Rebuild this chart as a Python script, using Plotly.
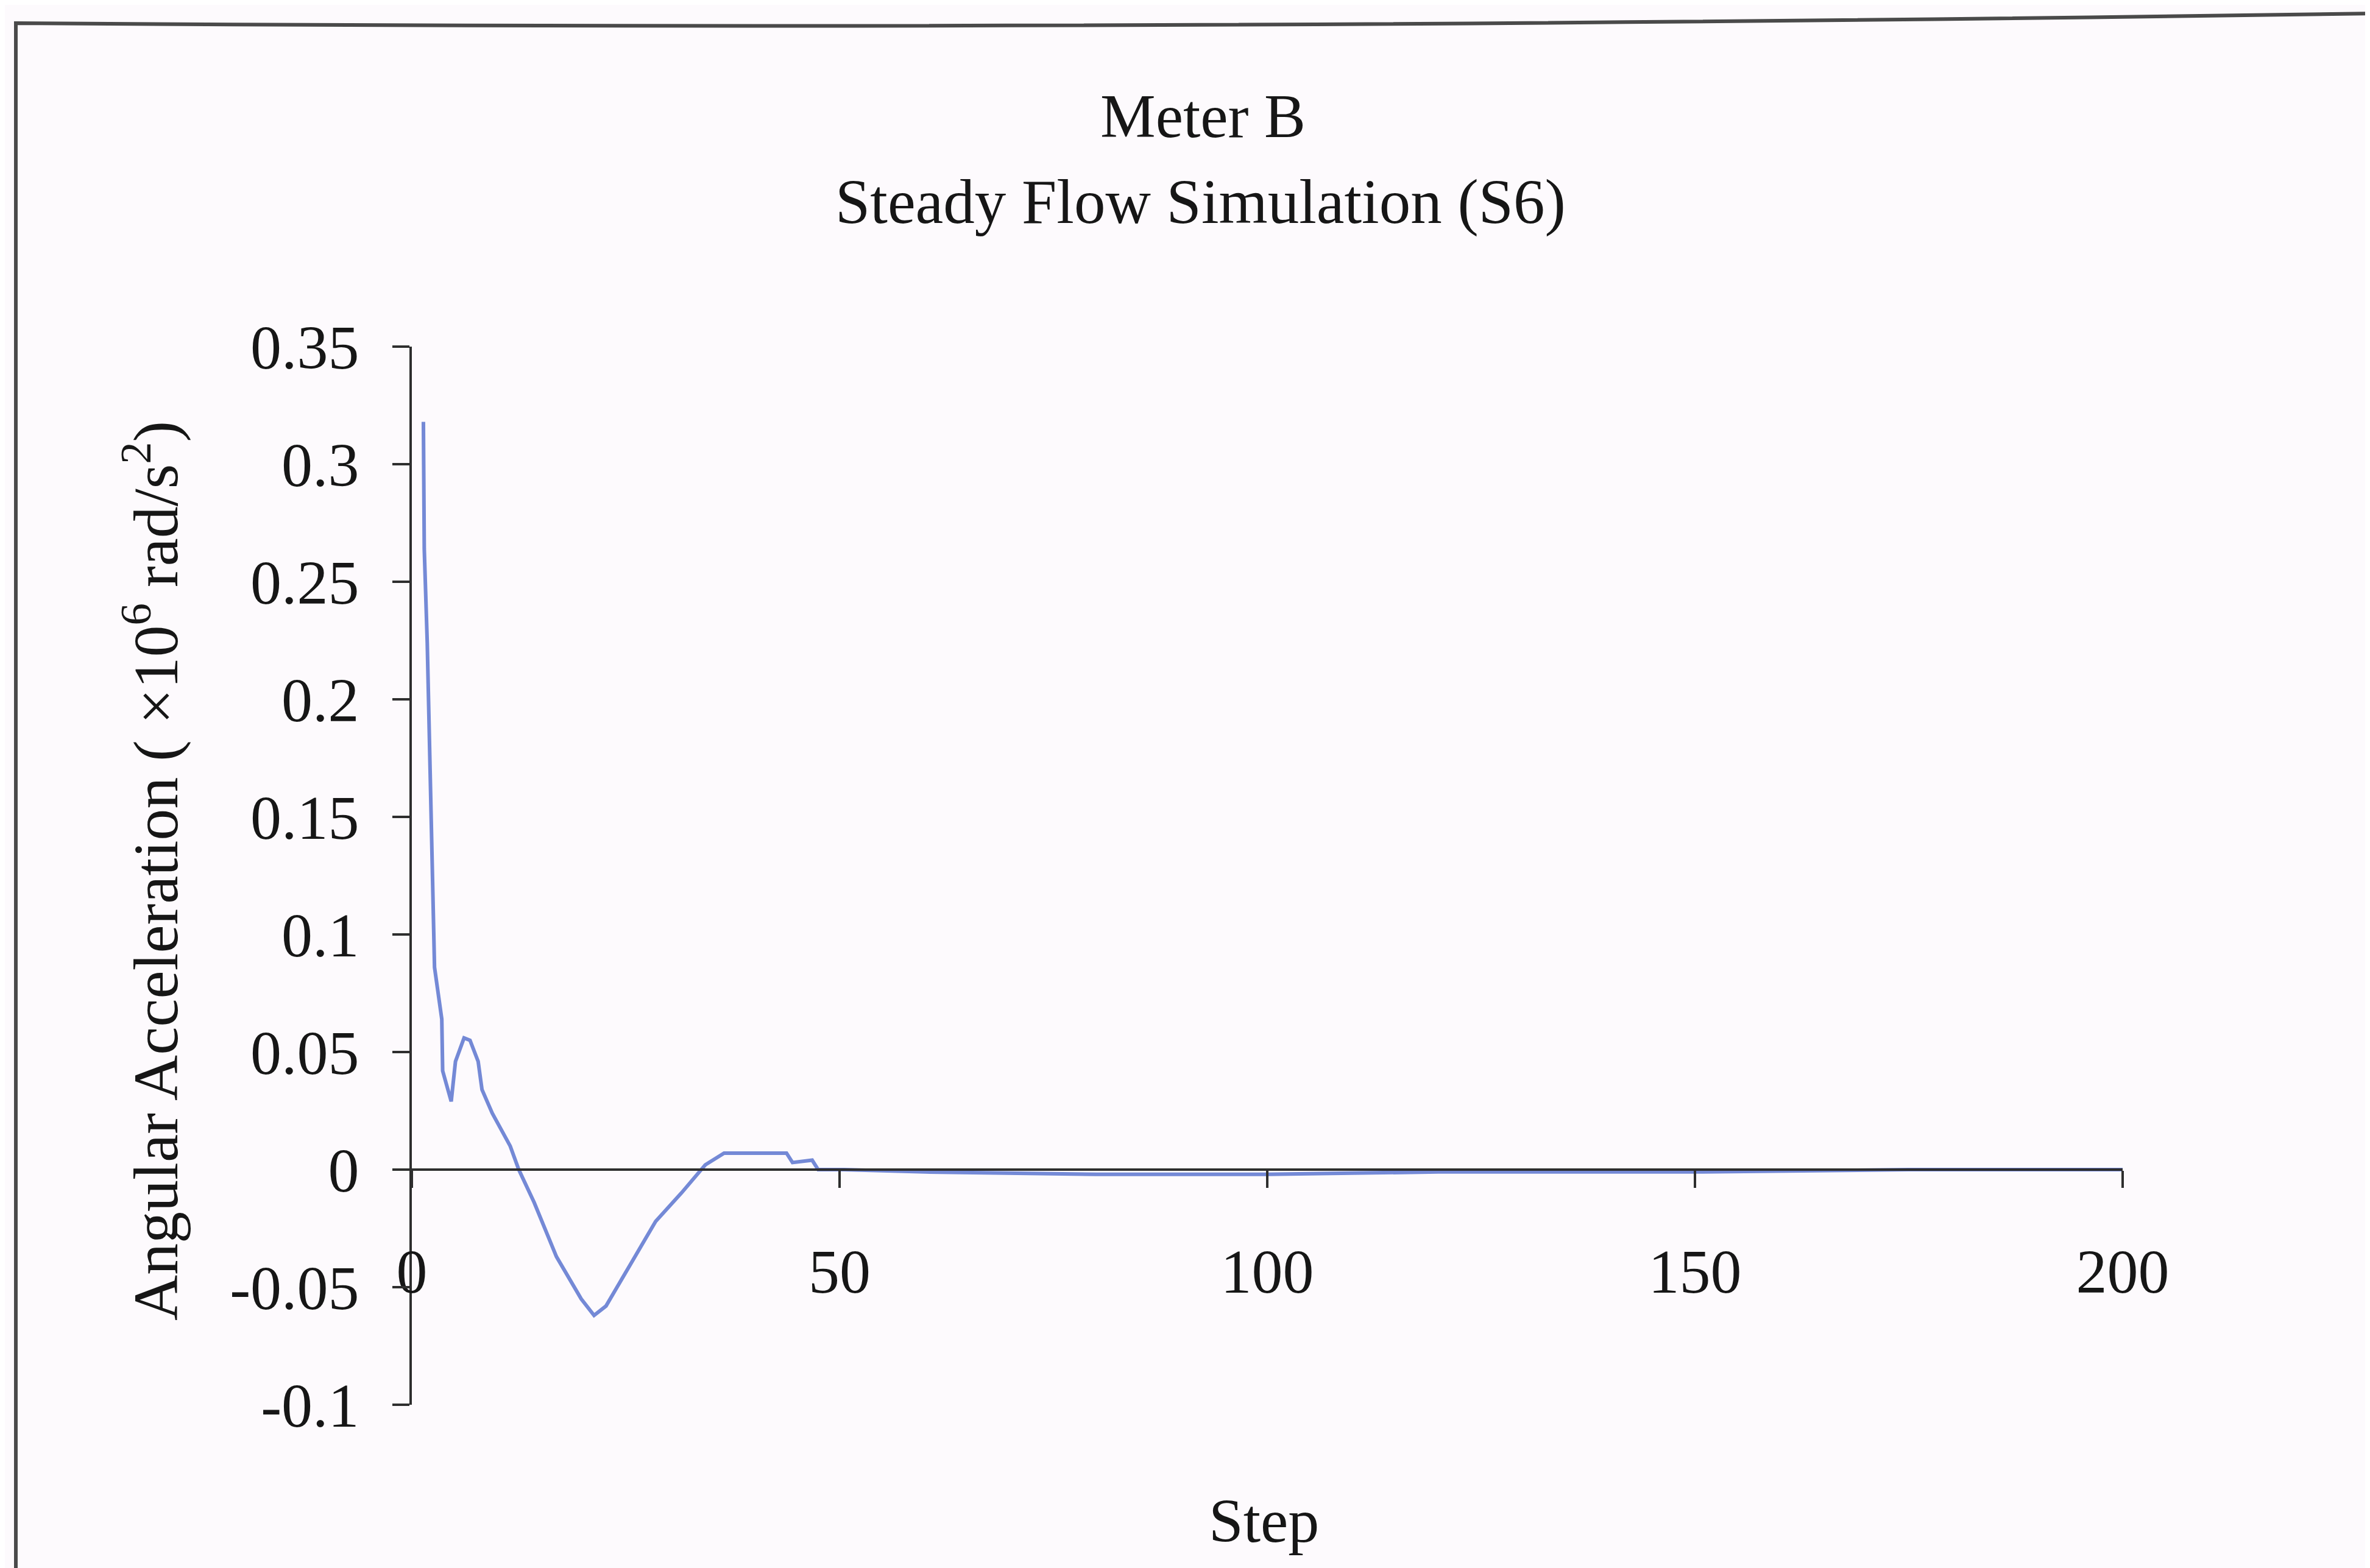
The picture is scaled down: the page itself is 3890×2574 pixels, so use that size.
import plotly.graph_objects as go

# ---- data ----
steps = [1.35, 1.45, 1.8, 2.15, 2.4, 2.65, 3.5, 3.6, 4.6, 5.1,
         6.1, 6.8, 7.75, 8.2, 9.4, 11.5, 12.5, 14.3, 16.9, 19.8,
         21.3, 22.7, 25.6, 28.5, 31.5, 34.3, 36.5, 43.8, 44.5, 46.8,
         47.5, 50.5, 60, 80, 100, 120, 150, 175, 200]
accel = [0.318, 0.264, 0.224, 0.165, 0.125, 0.086, 0.064, 0.042, 0.029, 0.046,
         0.056, 0.055, 0.046, 0.034, 0.024, 0.010, 0.0, -0.014, -0.037, -0.055,
         -0.062, -0.058, -0.040, -0.022, -0.010, 0.002, 0.007, 0.007, 0.003, 0.004,
         0.0, 0.0, -0.001, -0.002, -0.002, -0.001, -0.001, 0.0, 0.0]
x_ticks = [0, 50, 100, 150, 200]
y_ticks = [-0.1, -0.05, 0, 0.05, 0.1, 0.15, 0.2, 0.25, 0.3, 0.35]
y_tick_labels = ["-0.1", "-0.05", "0", "0.05", "0.1", "0.15", "0.2", "0.25", "0.3", "0.35"]
title_lines = ["Meter B", "Steady Flow Simulation (S6)"]
x_title = "Step"
y_title = "Angular Acceleration ( ×10<sup>6</sup> rad/s<sup>2</sup>)"

# ---- layout geometry (pixels) ----
W, H = 3890, 2574
L, R, T, B = 668, 3476, 561, 2298
PW, PH = R - L, B - T
YMIN, YMAX = -0.1, 0.35


def px(xp):
    return (xp - L) / PW


def py(yp):
    return (B - yp) / PH


FONT = "Liberation Serif, Times New Roman, serif"
INK = "#161616"

fig = go.Figure()
fig.add_trace(go.Scatter(
    x=steps, y=accel, mode="lines",
    line=dict(color="#7489d6", width=6),
    showlegend=False, hoverinfo="skip",
))

fig.update_layout(
    width=W, height=H,
    margin=dict(l=L, r=W - R, t=T, b=H - B, autoexpand=False),
    paper_bgcolor="#fdfafd", plot_bgcolor="rgba(0,0,0,0)",
    font=dict(family=FONT, color=INK, size=100),
    xaxis=dict(
        range=[0, 200], tickvals=x_ticks, showgrid=False, zeroline=False,
        showline=True, linecolor="#2e2e2e", linewidth=4,
        ticks="outside", ticklen=28, tickwidth=4, tickcolor="#2e2e2e",
        anchor="free", position=(0 - YMIN) / (YMAX - YMIN),
        ticklabelstandoff=50,
        tickfont=dict(family=FONT, size=102, color=INK),
    ),
    yaxis=dict(
        range=[YMIN, YMAX], tickvals=y_ticks, ticktext=y_tick_labels,
        showgrid=False, zeroline=False,
        showline=True, linecolor="#2e2e2e", linewidth=4,
        ticks="outside", ticklen=28, tickwidth=4, tickcolor="#2e2e2e",
        ticklabelstandoff=34,
        tickfont=dict(family=FONT, size=102, color=INK),
    ),
)

annotations = [
    dict(text=title_lines[0], x=px(1966), y=py(182), size=102),
    dict(text=title_lines[1], x=px(1962), y=py(323), size=103),
    dict(text=x_title, x=px(2066), y=py(2488), size=102),
    dict(text=y_title, x=px(240), y=py(1422), size=104, textangle=-90),
]
for a in annotations:
    size = a.pop("size")
    fig.add_annotation(xref="paper", yref="paper", showarrow=False,
                       xanchor="center", yanchor="middle",
                       font=dict(family=FONT, size=size, color=INK), **a)

# scanned page border (top and left)
fig.add_shape(type="path", xref="paper", yref="paper",
              path=f"M {px(18)} {py(2574)} L {px(18)} {py(30)} Q {px(1900)} {py(44)} {px(3890)} {py(14)}",
              line=dict(color="#4a4a4a", width=6))

fig.write_html("out.html")
